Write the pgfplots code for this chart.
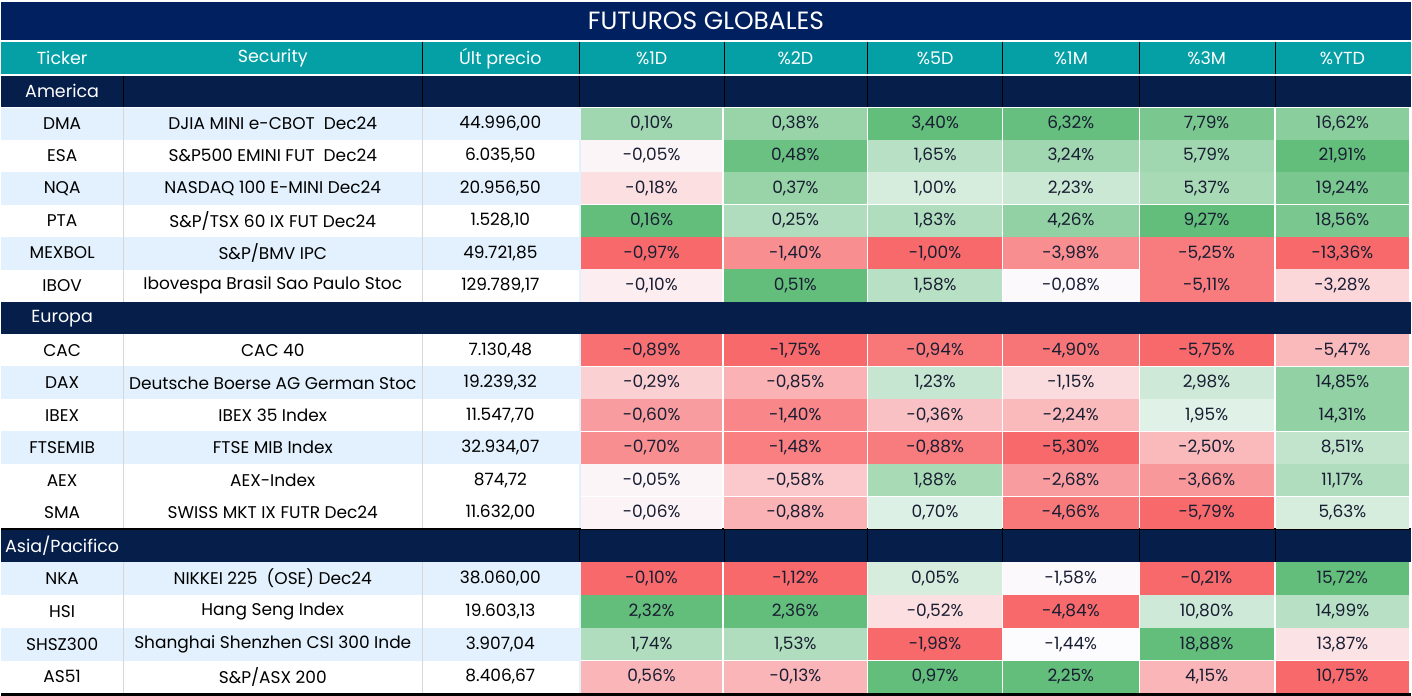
\documentclass[border=0pt]{standalone}
\usepackage{fontspec}
\setmainfont{Poppins}
\usepackage{pgfplots}
\usepackage{pgfplotstable}
\pgfplotsset{compat=1.18}
\definecolor{titlenavy}{RGB}{0,32,96}
\definecolor{groupnavy}{RGB}{6,31,74}
\definecolor{headteal}{RGB}{5,160,166}
\definecolor{stripe}{RGB}{226,241,253}
\definecolor{sepgray}{RGB}{215,215,215}
\definecolor{cellfg}{RGB}{25,30,50}
\definecolor{heatred}{RGB}{248,105,107}
\definecolor{heatgreen}{RGB}{99,190,123}
\definecolor{heatwhite}{RGB}{252,252,255}
\newcommand{\cellfont}{\fontsize{17}{20}\selectfont}

% y = row centre (pixels from top); v = value in %, c = colour intensity (-100 red ... 0 white ... 100 green)
\pgfplotstableread{
y     v1    c1   v2    c2   v3    c3   v4    c4   v5     c5   v6     c6
124   0.10  60   0.38  65   3.40  100  6.32  98   7.79   85   16.62  75
156   -0.05 -5   0.48  95   1.65  45   3.24  60   5.79   60   21.91  100
188.5 -0.18 -20  0.37  65   1.00  25   2.23  32   5.37   55   19.24  85
221   0.16  100  0.25  50   1.83  50   4.26  70   9.27   100  18.56  85
253.5 -0.97 -100 -1.40 -75  -1.00 -100 -3.98 -75  -5.25  -88  -13.36 -100
286   -0.10 -10  0.51  100  1.58  45   -0.08 -2   -5.11  -88  -3.28  -25
351   -0.89 -95  -1.75 -100 -0.94 -90  -4.90 -92  -5.75  -100 -5.47  -45
383.5 -0.29 -30  -0.85 -50  1.23  35   -1.15 -22  2.98   30   14.85  70
416   -0.60 -65  -1.40 -80  -0.36 -40  -2.24 -45  1.95   18   14.31  70
448.5 -0.70 -75  -1.48 -85  -0.88 -88  -5.30 -100 -2.50  -45  8.51   38
481   -0.05 -5   -0.58 -35  1.88  55   -2.68 -65  -3.66  -68  11.17  50
513.5 -0.06 -6   -0.88 -50  0.70  20   -4.66 -90  -5.79  -100 5.63   25
579.5 -0.10 -100 -1.12 -100 0.05  25   -1.58 -2   -0.21  -100 15.72  100
612.5 2.32  100  2.36  100  -0.52 -20  -4.84 -100 10.80  30   14.99  45
645.5 1.74  50   1.53  50   -1.98 -100 -1.44 0    18.88  100  13.87  -18
678   0.56  -48  -0.13 -48  0.97  100  2.25  100  4.15   -48  10.75  -100
}\heat

\pgfplotsset{
  heatcell/.style n args={2}{
    scatter, only marks, mark=square*, mark size=1pt,
    point meta=explicit,
    mark options={xscale=#2, yscale=15.6, line width=0pt},
    visualization depends on={\thisrow{#1} \as \cint},
    scatter/@pre marker code/.code={%
      \pgfmathtruncatemacro\ci{\cint}%
      \pgfmathtruncatemacro\ca{abs(\ci)}%
      \ifnum\ci<0 \colorlet{cellc}{heatred!\ca!heatwhite}\else\colorlet{cellc}{heatgreen!\ca!heatwhite}\fi
      \scope[fill=cellc, draw=cellc]},
    scatter/@post marker code/.code={\endscope},
  },
  heatlabel/.style={
    only marks, mark=none,
    visualization depends on={\thisrow{#1} \as \cellval},
    nodes near coords={\pgfmathprintnumber{\cellval}\%},
    every node near coord/.style={anchor=center, text=cellfg, font=\cellfont},
  }
}

\begin{document}
\begin{tikzpicture}
\begin{scope}[x=1pt,y=-1pt]
  \fill[white] (0,0) rectangle (1412,697);
  \fill[titlenavy] (0,1.5) rectangle (1412,40);
  \fill[headteal] (0,42) rectangle (1412,74);
  \fill[groupnavy] (0,76) rectangle (1412,107.5);
  \fill[groupnavy] (0,302.5) rectangle (1412,335);
  \fill[groupnavy] (0,531) rectangle (1412,563);
  % stripes
  \foreach \a/\b in {108/140, 172/205, 237/270, 367/400, 432/465, 563/596, 629/662}
    \fill[stripe] (0,\a) rectangle (579,\b);
  \fill[stripe] (579,108) rectangle (581,302.5);
  \fill[stripe] (579,335) rectangle (581,530);
  \fill[stripe] (579,563) rectangle (581,694);
  % light separators in the left block
  \foreach \x in {122,422} {
    \draw[sepgray, line width=0.8pt] (\x,108) -- (\x,302.5);
    \draw[sepgray, line width=0.8pt] (\x,335) -- (\x,530);
    \draw[sepgray, line width=0.8pt] (\x,563) -- (\x,694);
  }
  % black borders
  \foreach \x in {422,579,724,868,1003,1140,1276}
    \draw[black, line width=0.8pt] (\x,42) -- (\x,74);
  \foreach \x in {122,422,579,724,868,1003,1140,1276}
    \draw[black, line width=0.8pt] (\x,76) -- (\x,107.5);
  \foreach \x in {579,724,868,1003,1140,1276}
    \draw[black, line width=0.8pt] (\x,531) -- (\x,563);
  \draw[black, line width=2pt] (0,530) -- (1412,530);
  \draw[black, line width=2.5pt] (0,695.5) -- (1412,695.5);
\end{scope}

\begin{axis}[
  at={(0,0)}, anchor=north west,
  width=1412pt, height=697pt, scale only axis,
  xmin=0, xmax=1412, ymin=0, ymax=697, y dir=reverse,
  hide axis, clip=false,
  /pgf/number format/.cd, fixed, fixed zerofill, precision=2, use comma, 1000 sep={}, assume math mode=true,
]
\addplot[heatcell={c1}{70.5}] table[x expr=651.5, y=y, meta=c1] {\heat};
\addplot[heatcell={c2}{71}]   table[x expr=795.5, y=y, meta=c2] {\heat};
\addplot[heatcell={c3}{66.5}] table[x expr=935.5, y=y, meta=c3] {\heat};
\addplot[heatcell={c4}{67.5}] table[x expr=1071.5, y=y, meta=c4] {\heat};
\addplot[heatcell={c5}{66.5}] table[x expr=1207.5, y=y, meta=c5] {\heat};
\addplot[heatcell={c6}{66.5}] table[x expr=1343.5, y=y, meta=c6] {\heat};
\addplot[heatlabel={v1}] table[x expr=651.5, y=y] {\heat};
\addplot[heatlabel={v2}] table[x expr=795.5, y=y] {\heat};
\addplot[heatlabel={v3}] table[x expr=935.5, y=y] {\heat};
\addplot[heatlabel={v4}] table[x expr=1071.5, y=y] {\heat};
\addplot[heatlabel={v5}] table[x expr=1207.5, y=y] {\heat};
\addplot[heatlabel={v6}] table[x expr=1343.5, y=y] {\heat};
\end{axis}

\begin{scope}[x=1pt,y=-1pt]
  \node[white, font=\fontsize{25}{28}\selectfont] at (706,21) {FUTUROS GLOBALES};
  \foreach \x/\t in {61/Ticker, 272/Security, 500/Últ precio, 651.5/\%1D, 795.5/\%2D, 935.5/\%5D, 1071.5/\%1M, 1207.5/\%3M, 1343.5/\%YTD}
    \node[white, font=\fontsize{17.5}{20}\selectfont] at (\x,58.5) {\t};
  \foreach \y/\t in {91.5/America, 319/Europa, 547/{Asia/Pacifico}}
    \node[white, font=\fontsize{17.5}{20}\selectfont] at (61,\y) {\t};
  \foreach \y/\t/\s/\p in {
    124/DMA/{DJIA MINI e-CBOT\ \ Dec24}/{44.996,00},
    156/ESA/{S\&P500 EMINI FUT\ \ Dec24}/{6.035,50},
    188.5/NQA/{NASDAQ 100 E-MINI Dec24}/{20.956,50},
    221/PTA/{S\&P/TSX 60 IX FUT Dec24}/{1.528,10},
    253.5/MEXBOL/{S\&P/BMV IPC}/{49.721,85},
    286/IBOV/{Ibovespa Brasil Sao Paulo Stoc}/{129.789,17},
    351/CAC/{CAC 40}/{7.130,48},
    383.5/DAX/{Deutsche Boerse AG German Stoc}/{19.239,32},
    416/IBEX/{IBEX 35 Index}/{11.547,70},
    448.5/FTSEMIB/{FTSE MIB Index}/{32.934,07},
    481/AEX/{AEX-Index}/{874,72},
    513.5/SMA/{SWISS MKT IX FUTR Dec24}/{11.632,00},
    579.5/NKA/{NIKKEI 225\ \ (OSE) Dec24}/{38.060,00},
    612.5/HSI/{Hang Seng Index}/{19.603,13},
    645.5/SHSZ300/{Shanghai Shenzhen CSI 300 Inde}/{3.907,04},
    678/AS51/{S\&P/ASX 200}/{8.406,67}} {
    \node[black, font=\cellfont] at (61,\y) {\t};
    \node[black, font=\cellfont] at (272,\y) {\s};
    \node[black, font=\cellfont] at (500,\y) {\p};
  }
\end{scope}
\end{tikzpicture}
\end{document}
